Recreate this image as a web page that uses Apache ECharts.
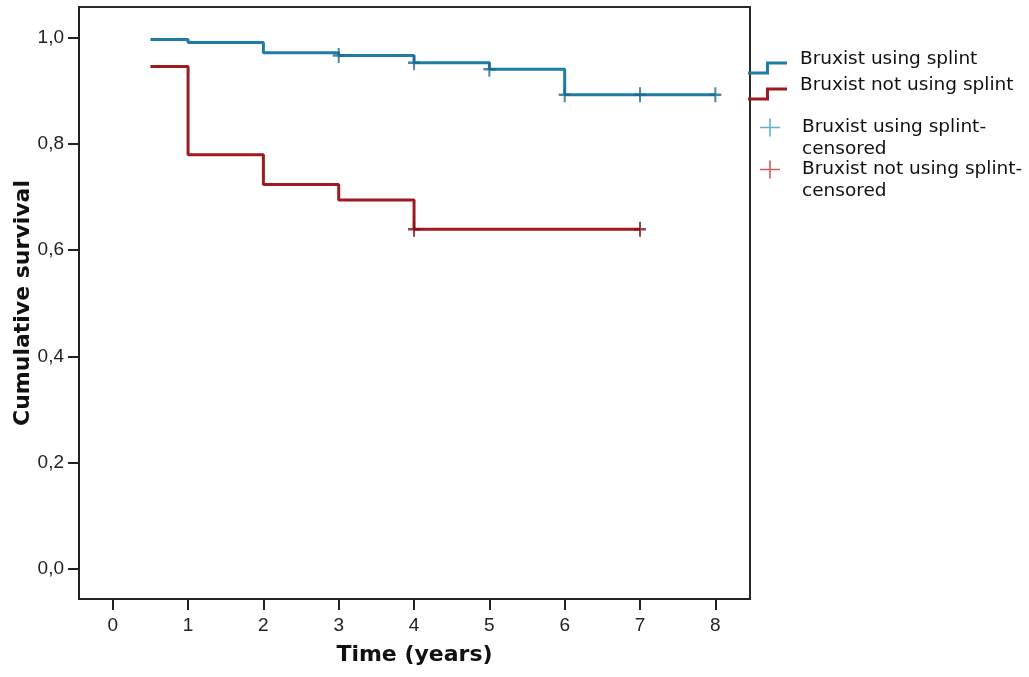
<!DOCTYPE html>
<html>
<head>
<meta charset="utf-8">
<script src="https://cdn.jsdelivr.net/npm/echarts@6/dist/echarts.min.js"></script>
<style>
html,body{margin:0;padding:0;background:#fff;}
#chart{width:1029px;height:677px;}
</style>
</head>
<body>
<div id="chart"></div>
<script>
// ---- data ----
const timesSplint = [0.5, 1, 2, 3, 4, 5, 6, 8];
const survSplint = [0.996, 0.990, 0.971, 0.966, 0.952, 0.940, 0.892, 0.892];
const timesNoSplint = [0.5, 1, 2, 3, 4, 7];
const survNoSplint = [0.945, 0.779, 0.723, 0.694, 0.639, 0.639];
const censorSplintT = [3, 4, 5, 6, 7, 8];
const censorSplintS = [0.966, 0.952, 0.940, 0.892, 0.892, 0.892];
const censorNoSplintT = [4, 7];
const censorNoSplintS = [0.639, 0.639];
const xTicks = [0, 1, 2, 3, 4, 5, 6, 7, 8];
const yTicks = [0, 0.2, 0.4, 0.6, 0.8, 1.0];
const seriesNames = ['Bruxist using splint', 'Bruxist not using splint',
  'Bruxist using splint-\ncensored', 'Bruxist not using splint-\ncensored'];

// ---- styles ----
const BLUE = '#1f7ca6';
const RED = '#9e1a1e';
const BLUE_L = '#3f9dc8';
const RED_L = '#cc2e3a';
const stepPath = 'path://M0,10 L18,10 L18,0 L39,0 L39,3 L21,3 L21,13 L0,13 Z';
const plusThin = 'path://M9.2,0 L10.8,0 L10.8,8.2 L20,8.2 L20,9.8 L10.8,9.8 L10.8,18 L9.2,18 L9.2,9.8 L0,9.8 L0,8.2 L9.2,8.2 Z';
const plusMark = 'path://M5,0 L7,0 L7,6.25 L12,6.25 L12,8.75 L7,8.75 L7,15 L5,15 L5,8.75 L0,8.75 L0,6.25 L5,6.25 Z';

const zip = (a, b) => a.map((v, i) => [v, b[i]]);
const fmtComma = v => v.toFixed(1).replace('.', ',');
const LFONT = 'DejaVu Sans';
const LSIZE = 18.5;
const TICKFONT = '"Liberation Sans", Arial, sans-serif';

const chart = echarts.init(document.getElementById('chart'));

// step legend: text line followed by a spacer line, so the text sits above the icon
const stepFormatter = name => '{a|' + name + '}\n{s| }';
// censored legend: spacer line first, so the first text line sits at the icon
const censFormatter = name => '{s| }\n' + name.split('\n').map(l => '{a|' + l + '}').join('\n');
const richStep = {
  a: { fontFamily: LFONT, fontSize: LSIZE, color: '#111', lineHeight: 22, padding: [0, 0, 0, 8] },
  s: { fontSize: 2, lineHeight: 17 }
};
const richCens = {
  a: { fontFamily: LFONT, fontSize: LSIZE, color: '#111', lineHeight: 21.5, padding: [0, 0, 0, 17] },
  s: { fontSize: 2, lineHeight: 21 }
};

chart.setOption({
  animation: false,
  backgroundColor: '#fff',
  grid: {
    left: 79, top: 7, right: 279, bottom: 78, outerBoundsMode: 'none', containLabel: false,
    show: true, borderColor: '#2a2a2a', borderWidth: 2, backgroundColor: '#fff'
  },
  xAxis: {
    type: 'value', min: -0.448, max: 8.46,
    name: 'Time (years)', nameLocation: 'middle', nameGap: 45, nameMoveOverlap: false,
    nameTextStyle: { fontFamily: 'DejaVu Sans', fontWeight: 'bold', fontSize: 22, color: '#111' },
    splitLine: { show: false },
    axisLine: { show: true, onZero: false, lineStyle: { color: '#222', width: 2 } },
    axisTick: { show: true, customValues: xTicks, length: 11, lineStyle: { color: '#222', width: 2 } },
    axisLabel: { customValues: xTicks, margin: 17, fontFamily: TICKFONT, fontSize: 19, color: '#222' }
  },
  yAxis: {
    type: 'value', min: -0.0565, max: 1.057,
    name: 'Cumulative survival', nameLocation: 'middle', nameGap: 45, nameMoveOverlap: false,
    nameTextStyle: { fontFamily: 'DejaVu Sans', fontWeight: 'bold', fontSize: 22, color: '#111' },
    splitLine: { show: false },
    axisLine: { show: true, onZero: false, lineStyle: { color: '#222', width: 2 } },
    axisTick: { show: true, customValues: yTicks, length: 11, lineStyle: { color: '#222', width: 2 } },
    axisLabel: { customValues: yTicks, margin: 15, formatter: fmtComma, fontFamily: TICKFONT, fontSize: 19, color: '#222' }
  },
  legend: [
    { left: 748, top: 50, padding: 0, itemWidth: 39, itemHeight: 13, selectedMode: false,
      data: [{ name: seriesNames[0], icon: stepPath, itemStyle: { color: BLUE, borderWidth: 0 } }],
      formatter: stepFormatter, textStyle: { rich: richStep } },
    { left: 748, top: 76, padding: 0, itemWidth: 39, itemHeight: 13, selectedMode: false,
      data: [{ name: seriesNames[1], icon: stepPath, itemStyle: { color: RED, borderWidth: 0 } }],
      formatter: stepFormatter, textStyle: { rich: richStep } },
    { left: 760, top: 105, padding: 0, itemWidth: 20, itemHeight: 18, selectedMode: false,
      data: [{ name: seriesNames[2], icon: plusThin, itemStyle: { color: BLUE_L, borderWidth: 0 } }],
      formatter: censFormatter, textStyle: { rich: richCens } },
    { left: 760, top: 147, padding: 0, itemWidth: 20, itemHeight: 18, selectedMode: false,
      data: [{ name: seriesNames[3], icon: plusThin, itemStyle: { color: RED_L, borderWidth: 0 } }],
      formatter: censFormatter, textStyle: { rich: richCens } }
  ],
  series: [
    { name: seriesNames[0], type: 'line', step: 'end', showSymbol: false, z: 3,
      data: zip(timesSplint, survSplint), color: BLUE, lineStyle: { color: BLUE, width: 3 } },
    { name: seriesNames[1], type: 'line', step: 'end', showSymbol: false, z: 3,
      data: zip(timesNoSplint, survNoSplint), color: RED, lineStyle: { color: RED, width: 3 } },
    { name: seriesNames[2], type: 'scatter', symbol: plusMark, symbolSize: [12, 15], z: 4,
      data: zip(censorSplintT, censorSplintS), itemStyle: { color: '#1b6a8f' } },
    { name: seriesNames[3], type: 'scatter', symbol: plusMark, symbolSize: [12, 15], z: 4,
      data: zip(censorNoSplintT, censorNoSplintS), itemStyle: { color: '#7d1418' } }
  ]
});
</script>
</body>
</html>
